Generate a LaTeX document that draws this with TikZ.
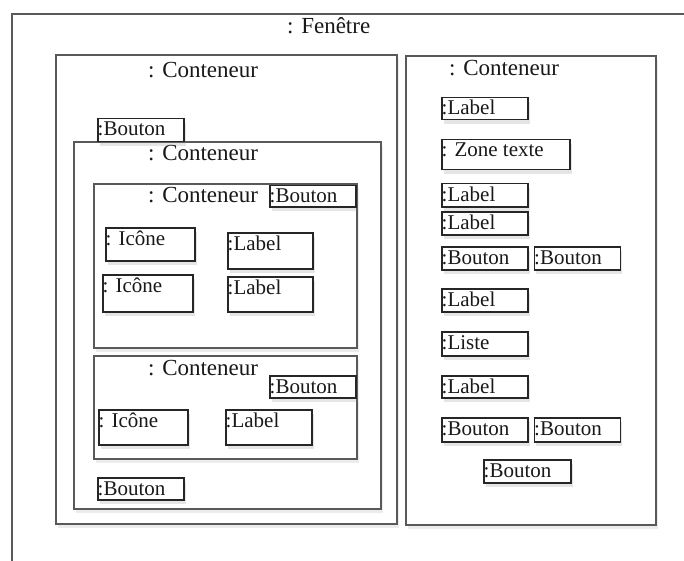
\documentclass[tikz,border=0pt]{standalone}
\usepackage{fontspec}
\setmainfont{Liberation Serif}
\usetikzlibrary{positioning,shadows}

\tikzset{
  frame/.style={draw=black!65, line width=1.8pt},
  cont/.style={frame, fill=white, anchor=north west, inner sep=0pt,
    drop shadow={opacity=0.15, shadow xshift=2pt, shadow yshift=-4pt}},
  elem/.style={draw=black!85, line width=1.5pt, fill=white, anchor=north west,
    inner sep=0pt, minimum width=86pt, minimum height=22pt,
    drop shadow={opacity=0.2, shadow xshift=2pt, shadow yshift=-4pt},
    label={[txt]north west:{#1}}},
  txt/.style={anchor=base west, inner sep=0pt, xshift=0.5pt, yshift=-18pt,
    font=\fontsize{21}{24}\selectfont, text=black!90},
  title/.style={anchor=base west, inner sep=0pt,
    font=\fontsize{23}{26}\selectfont, text=black!90}
}

\begin{document}
\begin{tikzpicture}[x=1pt, y=-1pt]
	\clip (0,0) rectangle (684,561);
	% fenetre
	\node[cont, minimum width=700, minimum height=600] (fen) at (11,13) {};
	\node[title] (tfen) at (287,34) {: Fenêtre};
	% conteneurs
	\node[cont, minimum width=341, minimum height=469] (cgauche) at (55,54) {};
	\node[cont, minimum width=250, minimum height=469] (cdroit) at (405,55) {};
	\node[title] (tgauche) at (148,78) {: Conteneur};
	\node[title] (tdroit) at (449,76) {: Conteneur};
	\node[cont, minimum width=307, minimum height=367] (cmilieu) at (73,141) {};
	\node[title] (tmilieu) at (148,161) {: Conteneur};
	\node[cont, minimum width=263, minimum height=164] (chaut) at (93,183) {};
	\node[title] (thaut) at (148,203) {: Conteneur};
	\node[cont, minimum width=263, minimum height=103] (cbas) at (93,355) {};
	\node[title] (tbas) at (148,375) {: Conteneur};
	% colonne gauche
	\node[elem={:Bouton}, minimum height=23] (bout1) at (97,118) {};
	\node[elem={:Bouton}, minimum height=21] (bout2) at (269,185) {};
	\node[elem={: Icône}, minimum width=89, minimum height=33] (ico1) at (105,227) {};
	\node[elem={:Label}, minimum width=85, minimum height=36] (lab1) at (227,232) {};
	\node[elem={: Icône}, minimum width=90, minimum height=37] (ico2) at (102,274) {};
	\node[elem={:Label}, minimum width=85, minimum height=35] (lab2) at (227,276) {};
	\node[elem={:Bouton}] (bout3) at (269,375) {};
	\node[elem={: Icône}, minimum width=89, minimum height=35] (ico3) at (98,409) {};
	\node[elem={:Label}, minimum height=35] (lab3) at (225,409) {};
	\node[elem={:Bouton}] (bout4) at (97,477) {};
	% colonne droite
	\node[elem={:Label}] (rlab1) at (441,97) {};
	\node[elem={: Zone texte}, minimum width=128, minimum height=30] (zone) at (441,139) {};
	\node[elem={:Label}, minimum height=23] (rlab2) at (441,183) {};
	\node[elem={:Label}, minimum height=23] (rlab3) at (441,211) {};
	\node[elem={:Bouton}, minimum height=23] (rbout1) at (441,246) {};
	\node[elem={:Bouton}, minimum height=23, right=5pt of rbout1] (rbout2) {};
	\node[elem={:Label}, minimum height=23] (rlab4) at (441,288) {};
	\node[elem={:Liste}, minimum height=24] (liste) at (441,331) {};
	\node[elem={:Label}] (rlab5) at (441,375) {};
	\node[elem={:Bouton}, minimum height=24] (rbout3) at (441,417) {};
	\node[elem={:Bouton}, minimum height=24, right=5pt of rbout3] (rbout4) {};
	\node[elem={:Bouton}, minimum width=87, minimum height=23] (rbout5) at (483,459) {};
\end{tikzpicture}
\end{document}
